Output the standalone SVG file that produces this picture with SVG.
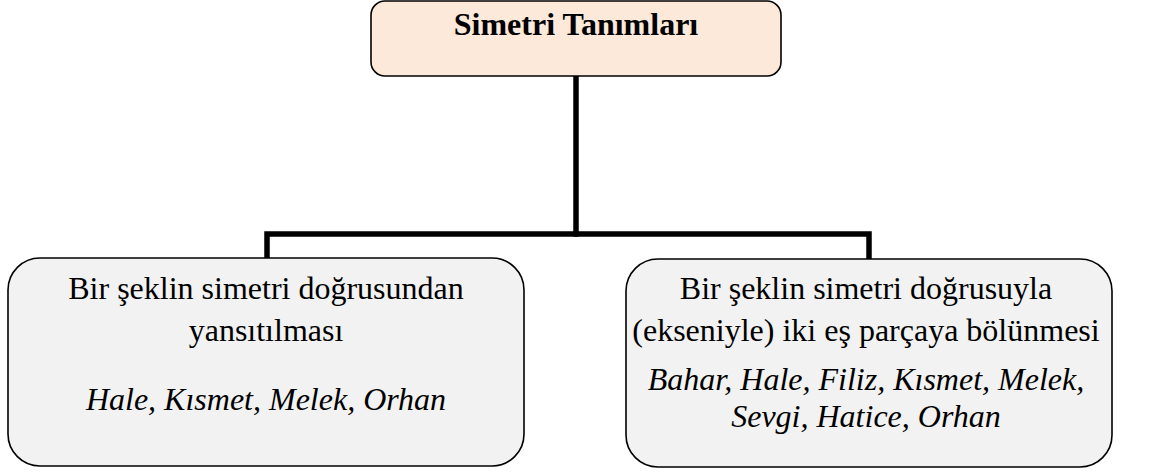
<svg xmlns="http://www.w3.org/2000/svg" width="1152" height="472" viewBox="0 0 1152 472">
  <style>
    .box { stroke: #000; stroke-width: 1.6; }
    .root { fill: #FCE9DA; }
    .leaf { fill: #F2F2F2; }
    .link { fill: none; stroke: #000; stroke-width: 5.5; stroke-linejoin: miter; stroke-linecap: square; }
    text { font-family: "Liberation Serif", "Times New Roman", serif; font-size: 32px; fill: #000; text-anchor: middle; }
    .title { font-weight: bold; }
    .names { font-style: italic; }
  </style>
  <rect width="1152" height="472" fill="#fff"/>

  <!-- connectors: trunk from the title down, then a bar splitting to both children -->
  <g id="connectors">
    <path class="link" d="M576 77 V234"/>
    <path class="link" d="M267 257 V234 H869 V257"/>
  </g>

  <g id="node-root">
    <rect class="box root" x="371" y="1" width="410" height="75" rx="14"/>
    <text class="title" x="576" y="35">Simetri Tanımları</text>
  </g>

  <g id="node-reflection">
    <rect class="box leaf" x="8" y="258" width="516" height="208" rx="32"/>
    <text x="266" y="299">Bir şeklin simetri doğrusundan</text>
    <text x="266" y="341">yansıtılması</text>
    <text class="names" x="266" y="410">Hale, Kısmet, Melek, Orhan</text>
  </g>

  <g id="node-division">
    <rect class="box leaf" x="626" y="259" width="486" height="208" rx="32"/>
    <text x="866" y="299">Bir şeklin simetri doğrusuyla</text>
    <text x="866" y="341">(ekseniyle) iki eş parçaya bölünmesi</text>
    <text class="names" x="866" y="390">Bahar, Hale, Filiz, Kısmet, Melek,</text>
    <text class="names" x="866" y="427">Sevgi, Hatice, Orhan</text>
  </g>
</svg>
